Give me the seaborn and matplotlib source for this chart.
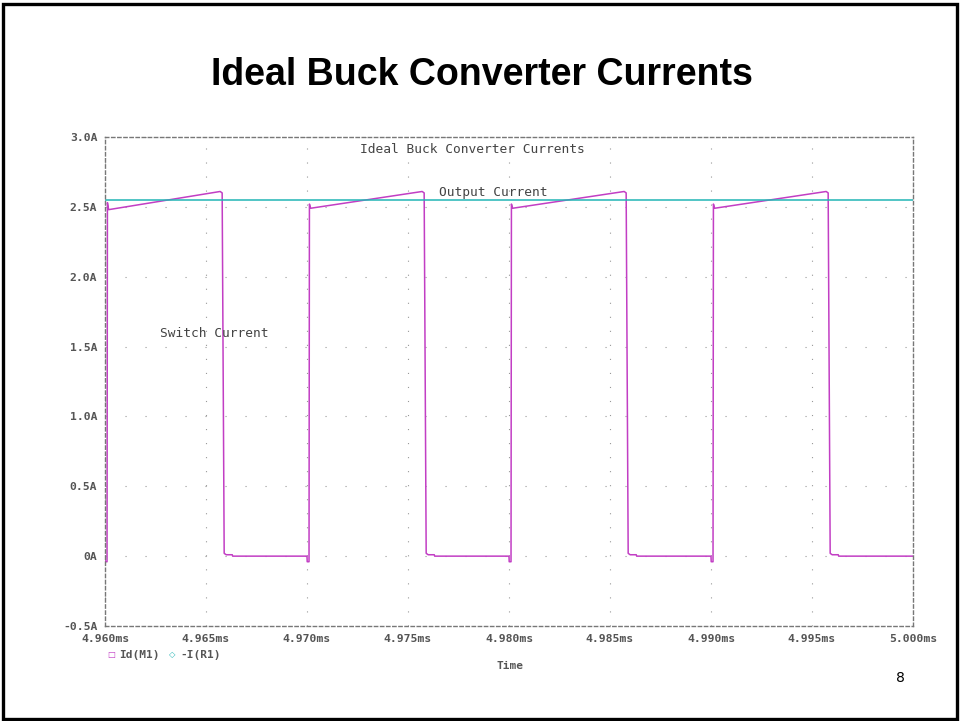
import matplotlib
matplotlib.use("Agg")
import matplotlib.pyplot as plt
import seaborn as sns
import pandas as pd
from matplotlib.patches import Rectangle

# ---------------- data ----------------
sw_time = [
    4.96000, 4.96001, 4.96010, 4.96012, 4.96018, 4.96570, 4.96580, 4.96590, 4.96600, 4.96630, 4.96632,
    4.97000, 4.97001, 4.97010, 4.97012, 4.97018, 4.97570, 4.97580, 4.97590, 4.97600, 4.97630, 4.97632,
    4.98000, 4.98001, 4.98010, 4.98012, 4.98018, 4.98570, 4.98580, 4.98590, 4.98600, 4.98630, 4.98632,
    4.99000, 4.99001, 4.99010, 4.99012, 4.99018, 4.99570, 4.99580, 4.99590, 4.99600, 4.99630, 4.99632,
    5.00000,
]
sw_current = [
    0.00, -0.04, -0.04, 2.53, 2.48, 2.61, 2.60, 0.02, 0.01, 0.01, 0.00,
    0.00, -0.04, -0.04, 2.52, 2.49, 2.61, 2.60, 0.02, 0.01, 0.01, 0.00,
    0.00, -0.04, -0.04, 2.52, 2.49, 2.61, 2.60, 0.02, 0.01, 0.01, 0.00,
    0.00, -0.04, -0.04, 2.52, 2.49, 2.61, 2.60, 0.02, 0.01, 0.01, 0.00,
    0.00,
]
out_time = [4.960, 5.000]
out_current = [2.55, 2.55]

x_ticks = [4.960, 4.965, 4.970, 4.975, 4.980, 4.985, 4.990, 4.995, 5.000]
x_labels = ["4.960ms", "4.965ms", "4.970ms", "4.975ms", "4.980ms",
            "4.985ms", "4.990ms", "4.995ms", "5.000ms"]
y_ticks = [-0.5, 0.0, 0.5, 1.0, 1.5, 2.0, 2.5, 3.0]
y_labels = ["-0.5A", "0A", "0.5A", "1.0A", "1.5A", "2.0A", "2.5A", "3.0A"]

# ---------------- style ----------------
sns.set_style("white")
plt.rcParams['font.family'] = ['DejaVu Sans']
plt.rcParams['lines.scale_dashes'] = False

MAG = "#c23ec4"
CYAN = "#22b5b5"
GRAYTXT = "#555555"

fig = plt.figure(figsize=(9.6, 7.21), dpi=100)
ax = fig.add_axes([105/960, 1-626/721, (913-105)/960, (626-137)/721])

df_sw = pd.DataFrame({"Time": sw_time, "Current": sw_current})
df_out = pd.DataFrame({"Time": out_time, "Current": out_current})
sns.lineplot(data=df_sw, x="Time", y="Current", ax=ax, color=MAG, lw=1.1,
             estimator=None, sort=False)
sns.lineplot(data=df_out, x="Time", y="Current", ax=ax, color=CYAN, lw=1.1,
             estimator=None, sort=False)

ax.set_xlim(4.960, 5.000)
ax.set_ylim(-0.5, 3.0)
ax.set_xticks(x_ticks)
ax.set_xticklabels(x_labels)
ax.set_yticks(y_ticks)
ax.set_yticklabels(y_labels)
ax.set_xlabel("")
ax.set_ylabel("")

for lab in ax.get_xticklabels() + ax.get_yticklabels():
    lab.set_family("DejaVu Sans Mono")
    lab.set_fontsize(8.2)
    lab.set_color(GRAYTXT)
    lab.set_fontweight("bold")
ax.tick_params(axis="both", direction="out", length=3.5, width=0.9,
               color="#666666", pad=2)

for sp in ax.spines.values():
    sp.set_visible(True)
    sp.set_linestyle((0, (2.4, 2.0)))
    sp.set_color("#777777")
    sp.set_linewidth(1.0)

# dotted grid
ax.xaxis.grid(True, linestyle=(0, (0.8, 9.3)), color="#999999", lw=0.8)
ax.yaxis.grid(True, linestyle=(0, (0.8, 13.6)), color="#999999", lw=0.8)
ax.set_axisbelow(True)

# annotations inside the plot
ax.text(4.97817, 2.914, "Ideal Buck Converter Currents", family="DejaVu Sans Mono",
        fontsize=9.3, color="#444444", ha="center", va="center")
ax.text(4.97921, 2.60, "Output Current", family="DejaVu Sans Mono",
        fontsize=9.3, color="#444444", ha="center", va="center")
ax.text(4.96540, 1.597, "Switch Current", family="DejaVu Sans Mono",
        fontsize=9.3, color="#444444", ha="center", va="center")

# title
fig.text(0.502, 1-75/721, "Ideal Buck Converter Currents", family="Liberation Sans",
         fontweight="bold", fontsize=27, ha="center", va="center", color="black")

# legend-like labels below axis
fig.text(111/960, 1-655/721, "\u25a1", color=MAG, fontsize=6, ha="center", va="center")
fig.text(119/960, 1-655/721, "Id(M1)", family="DejaVu Sans Mono", fontsize=8,
         fontweight="bold", color=GRAYTXT, ha="left", va="center")
fig.text(172/960, 1-655/721, "\u25c7", color=CYAN, fontsize=6, ha="center", va="center")
fig.text(180/960, 1-655/721, "-I(R1)", family="DejaVu Sans Mono", fontsize=8,
         fontweight="bold", color=GRAYTXT, ha="left", va="center")
fig.text(510/960, 1-666/721, "Time", family="DejaVu Sans Mono", fontsize=8,
         fontweight="bold", color=GRAYTXT, ha="center", va="center")

# page number
fig.text(900/960, 1-678/721, "8", fontsize=10, color="black", ha="center", va="center")

# slide border
fig.patches.append(Rectangle((3/960, 2/721), 954/960, 715/721, transform=fig.transFigure,
                             fill=False, edgecolor="black", lw=2.4))

fig.savefig("out.png", dpi=100)
